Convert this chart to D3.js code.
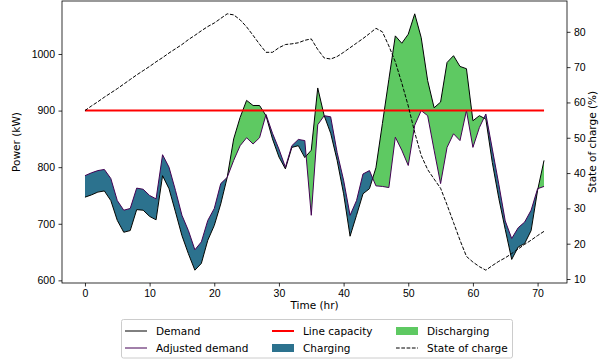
<!DOCTYPE html>
<html>
<head>
<meta charset="utf-8">
<script src="https://cdn.jsdelivr.net/npm/d3@7"></script>
<style>
  html, body { margin: 0; padding: 0; background: #fff; }
  svg { display: block; font-family: "DejaVu Sans", sans-serif; }
  .tick text { font-size: 10.5px; fill: #000; }
</style>
</head>
<body>
<svg id="chart" width="602" height="362"></svg>
<script>
// Hourly grid demand and battery-adjusted demand (kW), state of charge (%)
const demand = [747,751,756,758,741,706,685,688,725,724,713,707,785,762,721,679,647,618,630,671,
  697,735,782,850,888,918,909,909,891,850,818,797,835,838,817,830,940,891,860,812,
  753,678,715,753,762,799,877,955,1032,1019,1035,1071,1029,953,905,915,985,997,978,974,
  882,891,885,808,745,690,637,659,665,688,759,812];
const adjusted = [785,790,794,796,780,741,724,727,763,761,750,744,822,800,759,715,688,654,668,706,
  727,771,782,812,838,852,841,852,893,860,832,800,838,849,847,715,875,891,889,826,
  777,715,741,788,794,767,766,764,853,830,803,874,900,891,830,771,835,859,847,900,
  835,870,894,832,770,705,674,693,703,724,762,766];
const stateOfCharge = [57.7,59.0,60.2,61.5,62.7,63.9,65.2,66.5,67.8,69.0,70.2,71.5,72.7,74.0,75.2,76.4,77.8,79.0,80.3,81.5,
  82.5,83.8,85.1,84.8,83.4,81.4,79.0,76.5,74.2,74.2,75.5,76.4,76.6,76.9,77.6,78.0,75.0,72.6,72.3,73.0,
  74.2,75.5,76.8,78.1,79.5,81.0,80.0,76.0,71.5,65.5,59.0,51.5,45.0,41.0,38.3,35.7,31.0,26.0,21.0,16.4,
  14.8,13.5,12.5,13.8,15.0,16.0,17.2,18.5,19.8,21.0,22.3,23.5];
const lineCapacity = 900;
const hours = demand.map((_, i) => i);

const powerTicks = [600, 700, 800, 900, 1000];
const socTicks = [10, 20, 30, 40, 50, 60, 70, 80];
const timeTicks = [0, 10, 20, 30, 40, 50, 60, 70];

const colors = {
  demand: "#000000",
  adjusted: "#440154",
  capacity: "#ff0000",
  charging: "#2c728e",
  discharging: "#5ec962",
  soc: "#000000"
};

const legendItems = [
  { label: "Demand", type: "line", color: colors.demand, width: 1 },
  { label: "Adjusted demand", type: "line", color: colors.adjusted, width: 1 },
  { label: "Line capacity", type: "line", color: colors.capacity, width: 2 },
  { label: "Charging", type: "patch", color: colors.charging },
  { label: "Discharging", type: "patch", color: colors.discharging },
  { label: "State of charge", type: "dash", color: colors.soc, width: 1 }
];

const plot = { left: 62, right: 567, top: 1, bottom: 283 };
const svg = d3.select("#chart");

// Scales with a 5% margin around the data
const xExt = d3.extent(hours);
const xPad = (xExt[1] - xExt[0]) * 0.05;
const x = d3.scaleLinear().domain([xExt[0] - xPad, xExt[1] + xPad]).range([plot.left, plot.right]);

const pExt = d3.extent(demand.concat(adjusted, [lineCapacity]));
const pPad = (pExt[1] - pExt[0]) * 0.05;
const y = d3.scaleLinear().domain([pExt[0] - pPad, pExt[1] + pPad]).range([plot.bottom, plot.top]);

const sExt = d3.extent(stateOfCharge);
const sPad = (sExt[1] - sExt[0]) * 0.05;
const y2 = d3.scaleLinear().domain([sExt[0] - sPad, sExt[1] + sPad]).range([plot.bottom, plot.top]);

const rows = hours.map(h => ({ h, d: demand[h], a: adjusted[h], s: stateOfCharge[h] }));

// Clip regions on either side of the demand curve
const defs = svg.append("defs");
defs.append("clipPath").attr("id", "above-demand").append("path")
  .attr("d", d3.area().x(r => x(r.h)).y0(r => y(r.d)).y1(plot.top - 5)(rows));
defs.append("clipPath").attr("id", "below-demand").append("path")
  .attr("d", d3.area().x(r => x(r.h)).y0(r => y(r.d)).y1(plot.bottom + 5)(rows));
defs.append("clipPath").attr("id", "plot-area").append("rect")
  .attr("x", plot.left).attr("y", plot.top)
  .attr("width", plot.right - plot.left).attr("height", plot.bottom - plot.top);

const band = d3.area().x(r => x(r.h)).y0(r => y(r.d)).y1(r => y(r.a));

const g = svg.append("g").attr("clip-path", "url(#plot-area)");

// Charging: adjusted demand above demand
g.append("g").attr("clip-path", "url(#above-demand)")
  .append("path").attr("d", band(rows)).attr("fill", colors.charging);
// Discharging: adjusted demand below demand
g.append("g").attr("clip-path", "url(#below-demand)")
  .append("path").attr("d", band(rows)).attr("fill", colors.discharging);

g.append("path")
  .attr("d", d3.line().x(r => x(r.h)).y(r => y(r.d))(rows))
  .attr("fill", "none").attr("stroke", colors.demand).attr("stroke-width", 1);
g.append("path")
  .attr("d", d3.line().x(r => x(r.h)).y(r => y(r.a))(rows))
  .attr("fill", "none").attr("stroke", colors.adjusted).attr("stroke-width", 1);

g.append("line")
  .attr("x1", x(xExt[0])).attr("x2", x(xExt[1]))
  .attr("y1", y(lineCapacity)).attr("y2", y(lineCapacity))
  .attr("stroke", colors.capacity).attr("stroke-width", 2);

g.append("path")
  .attr("d", d3.line().x(r => x(r.h)).y(r => y2(r.s))(rows))
  .attr("fill", "none").attr("stroke", colors.soc).attr("stroke-width", 1)
  .attr("stroke-dasharray", "3.7,1.6");

// Axes
function styleAxis(sel) {
  sel.select(".domain").remove();
  sel.selectAll(".tick line").attr("stroke", "#000").attr("stroke-width", 0.8);
  sel.selectAll(".tick text").attr("fill", "#000");
}
svg.append("g").attr("transform", `translate(0,${plot.bottom})`)
  .call(d3.axisBottom(x).tickValues(timeTicks).tickSize(3.5).tickPadding(3.5).tickFormat(d3.format("d")))
  .call(styleAxis);
svg.append("g").attr("transform", `translate(${plot.left},0)`)
  .call(d3.axisLeft(y).tickValues(powerTicks).tickSize(3.5).tickPadding(3.5).tickFormat(d3.format("d")))
  .call(styleAxis);
svg.append("g").attr("transform", `translate(${plot.right},0)`)
  .call(d3.axisRight(y2).tickValues(socTicks).tickSize(3.5).tickPadding(3.5).tickFormat(d3.format("d")))
  .call(styleAxis);

svg.append("rect")
  .attr("x", plot.left).attr("y", plot.top)
  .attr("width", plot.right - plot.left).attr("height", plot.bottom - plot.top)
  .attr("fill", "none").attr("stroke", "#000").attr("stroke-width", 0.8);

// Axis titles
svg.append("text").attr("x", (plot.left + plot.right) / 2).attr("y", 309)
  .attr("text-anchor", "middle").attr("font-size", "10.5px").text("Time (hr)");
svg.append("text").attr("transform", `translate(20,${(plot.top + plot.bottom) / 2}) rotate(-90)`)
  .attr("text-anchor", "middle").attr("font-size", "10.5px").text("Power (kW)");
svg.append("text").attr("transform", `translate(596,${(plot.top + plot.bottom) / 2}) rotate(-90)`)
  .attr("text-anchor", "middle").attr("font-size", "10.5px").text("State of charge (%)");

// Legend, three columns filled top to bottom
const legend = svg.append("g");
legend.append("rect")
  .attr("x", 121.5).attr("y", 319.5).attr("width", 391).attr("height", 38.5).attr("rx", 2)
  .attr("fill", "#fff").attr("stroke", "#cccccc").attr("stroke-width", 1);
const colX = [125, 272, 396];
const rowY = [331, 348];
legendItems.forEach((item, i) => {
  const cx = colX[Math.floor(i / 2)];
  const cy = rowY[i % 2];
  const it = legend.append("g");
  if (item.type === "patch") {
    it.append("rect").attr("x", cx).attr("y", cy - 4).attr("width", 22).attr("height", 8)
      .attr("fill", item.color);
  } else {
    it.append("line").attr("x1", cx).attr("x2", cx + 22).attr("y1", cy).attr("y2", cy)
      .attr("stroke", item.color).attr("stroke-width", item.width)
      .attr("stroke-dasharray", item.type === "dash" ? "3.7,1.6" : null);
  }
  it.append("text").attr("x", cx + 31).attr("y", cy).attr("dy", "0.35em")
    .attr("font-size", "10.5px").text(item.label);
});
</script>
</body>
</html>
